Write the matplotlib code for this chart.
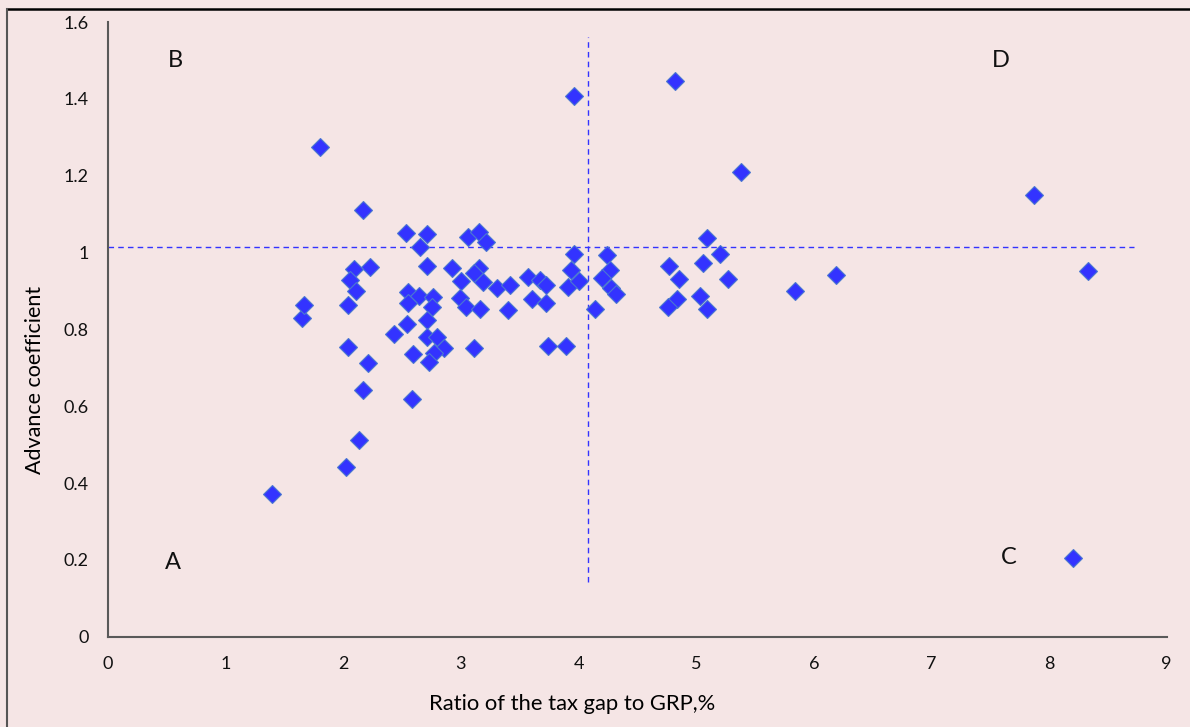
import matplotlib
matplotlib.use('Agg')
import matplotlib.pyplot as plt
from matplotlib.lines import Line2D

# tax gap ratio (%) vs advance coefficient
tax_gap = [1.39, 1.80, 1.65, 1.67, 2.02, 2.13, 2.17, 2.21, 2.04, 2.17,
           2.23, 2.09, 2.06, 2.11, 2.04, 2.53, 2.71, 2.65, 2.71, 2.92,
           3.00, 2.99, 3.04, 3.16, 3.06, 3.15, 3.21, 3.15, 3.11, 3.19,
           2.55, 2.64, 2.76, 2.55, 2.75, 2.71, 2.54, 2.43, 2.71, 2.80,
           2.86, 2.77, 2.73, 2.59, 2.58, 3.11, 3.31, 3.42, 3.57, 3.67,
           3.72, 3.60, 3.72, 3.40, 3.74, 3.89, 3.96, 3.94, 3.91, 4.00,
           4.24, 4.27, 4.20, 4.28, 4.32, 4.14, 4.77, 4.85, 4.84, 4.76,
           5.09, 5.20, 5.06, 5.27, 5.03, 5.09, 5.84, 6.19, 3.96, 4.82,
           5.38, 7.87, 8.33, 8.20]
advance = [0.371, 1.276, 0.829, 0.863, 0.442, 0.512, 0.642, 0.712, 0.755, 1.112,
           0.963, 0.956, 0.928, 0.900, 0.863, 1.050, 1.047, 1.015, 0.965, 0.959,
           0.926, 0.882, 0.859, 0.853, 1.040, 1.054, 1.028, 0.959, 0.946, 0.924,
           0.898, 0.887, 0.883, 0.869, 0.859, 0.824, 0.814, 0.788, 0.779, 0.781,
           0.751, 0.738, 0.716, 0.736, 0.620, 0.751, 0.907, 0.915, 0.937, 0.928,
           0.915, 0.878, 0.868, 0.850, 0.757, 0.757, 0.996, 0.954, 0.911, 0.926,
           0.993, 0.954, 0.935, 0.907, 0.893, 0.852, 0.965, 0.931, 0.878, 0.857,
           1.037, 0.996, 0.974, 0.931, 0.887, 0.852, 0.901, 0.941, 1.407, 1.446,
           1.209, 1.151, 0.952, 0.205]

# dividing lines and quadrant letters
split_x = 4.08
split_y = 1.014
quadrants = ['A', 'B', 'C', 'D']
quad_x = [0.55, 0.57, 7.66, 7.59]
quad_y = [0.194, 1.50, 0.205, 1.50]

bg = '#F5E5E5'
blue = '#3333FF'
plt.rcParams['font.family'] = ['Lato', 'DejaVu Sans']

fig = plt.figure(figsize=(11.9, 7.27), dpi=100, facecolor=bg)
ax = fig.add_axes([0.0908, 0.1242, 0.8896, 0.8455])
ax.set_facecolor(bg)

ax.plot(tax_gap, advance, linestyle='none', marker='D', markersize=9.5,
        markerfacecolor=blue, markeredgecolor='#4A78D0', markeredgewidth=0.8,
        zorder=3)

ax.plot([split_x, split_x], [0.142, 1.561], color=blue, linestyle=(0, (4, 3)),
        linewidth=1.0, zorder=2)
ax.plot([0, 8.72], [split_y, split_y], color=blue, linestyle=(0, (4, 3)),
        linewidth=1.0, zorder=2)

for q, qx, qy in zip(quadrants, quad_x, quad_y):
    ax.text(qx, qy, q, fontsize=17, ha='center', va='center', color='#111111')

ax.set_xlim(0, 9)
ax.set_ylim(0, 1.6)
ax.set_xticks(range(0, 10))
ax.set_yticks([0, 0.2, 0.4, 0.6, 0.8, 1, 1.2, 1.4, 1.6])
ax.set_yticklabels(['0', '0.2', '0.4', '0.6', '0.8', '1', '1.2', '1.4', '1.6'])
ax.tick_params(length=0, labelsize=13, pad=14, colors='#111111')

for s in ['top', 'right']:
    ax.spines[s].set_visible(False)
for s in ['left', 'bottom']:
    ax.spines[s].set_color('#595959')
    ax.spines[s].set_linewidth(1.5)

ax.set_xlabel('Ratio of the tax gap to GRP,%', fontsize=15.8, va='center')
ax.set_ylabel('Advance coefficient', fontsize=15.5, va='center')
# labels sit a bit off-centre in the original
ax.xaxis.set_label_coords(0.4385, -0.1097)
ax.yaxis.set_label_coords(-0.0686, 0.4171)

# frame lines along top and left of the figure
fig.add_artist(Line2D([7 / 1190, 1], [1 - 8.5 / 727, 1 - 8.5 / 727],
                      color='black', linewidth=1.8))
fig.add_artist(Line2D([7 / 1190, 7 / 1190], [0, 1 - 8.5 / 727],
                      color='#555555', linewidth=1.5))

fig.savefig('out.png', dpi=100, facecolor=bg)
